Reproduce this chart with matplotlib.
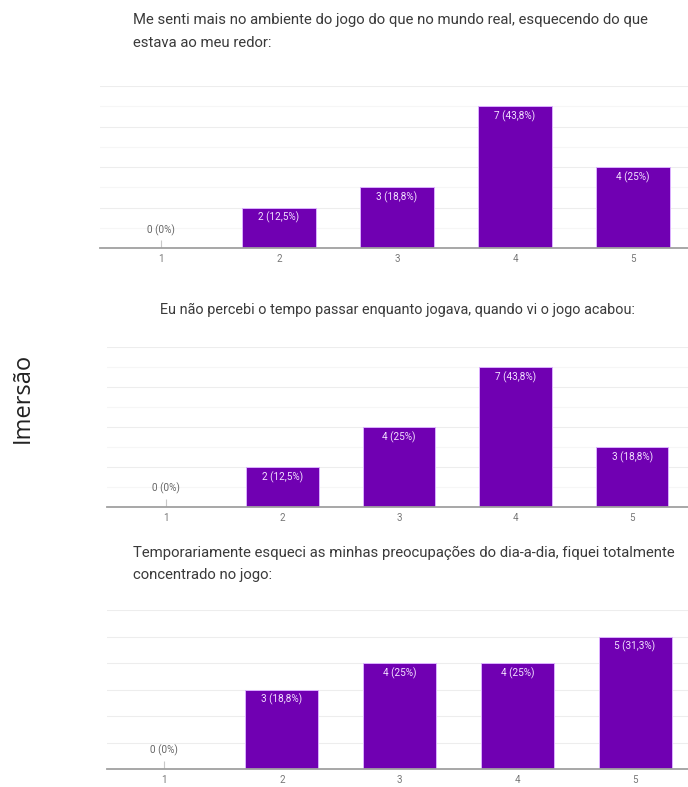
import math

import matplotlib
matplotlib.use("Agg")
import matplotlib.pyplot as plt

# Respostas (escala 1-5), 16 participantes
categories = [1, 2, 3, 4, 5]
counts_q1 = [0, 2, 3, 7, 4]
counts_q2 = [0, 2, 4, 7, 3]
counts_q3 = [0, 3, 4, 4, 5]
total = 16

title_q1 = ("Me senti mais no ambiente do jogo do que no mundo real, esquecendo do que\n"
            "estava ao meu redor:")
title_q2 = "Eu não percebi o tempo passar enquanto jogava, quando vi o jogo acabou:"
title_q3 = ("Temporariamente esqueci as minhas preocupações do dia-a-dia, fiquei totalmente\n"
            "concentrado no jogo:")
side_label = "Imersão"

BAR = "#7000b2"
EDGE = "#dcb0ff"
W, H = 688, 787


def pct_label(n):
    p = math.floor(n / total * 1000 + 0.5) / 10
    txt = f"{p:.0f}" if p == int(p) else f"{p:.1f}".replace(".", ",")
    return f"{n} ({txt}%)"


def px_axes(fig, left, right, base, top):
    return fig.add_axes([left / W, 1 - base / H, (right - left) / W, (base - top) / H])


def draw_panel(ax, counts, ymax, xlim, major_step):
    ax.set_xlim(*xlim)
    ax.set_ylim(0, ymax)
    for y in range(1, ymax + 1):
        col = "#ededed" if y % major_step == 0 else "#f6f6f6"
        ax.axhline(y, color=col, lw=0.8, zorder=0)
    ax.bar(categories, counts, width=0.62, color=BAR, edgecolor=EDGE, lw=0.7, zorder=2)
    ax.vlines(categories[0], 0, ymax * 0.05, color="#c8c8c8", lw=0.8, zorder=1)
    for x, n in zip(categories, counts):
        if n == 0:
            ax.annotate(pct_label(n), (x, 0), xytext=(0, 9), textcoords="offset points",
                        ha="center", va="bottom", fontsize=7.2, color="#666666",
                        family="Roboto")
        else:
            ax.annotate(pct_label(n), (x, n), xytext=(0, -3), textcoords="offset points",
                        ha="center", va="top", fontsize=7.2, color="#f3e2ff",
                        family="Roboto")
    for s in ("top", "right", "left"):
        ax.spines[s].set_visible(False)
    ax.spines["bottom"].set_color("#a0a0a0")
    ax.spines["bottom"].set_linewidth(1.3)
    ax.spines["bottom"].set_zorder(3)
    ax.set_yticks([])
    ax.set_xticks(categories)
    ax.set_xticklabels([str(c) for c in categories])
    ax.tick_params(axis="x", length=0, pad=4, labelsize=7, labelcolor="#777777")
    for lab in ax.get_xticklabels():
        lab.set_family("Roboto")


fig = plt.figure(figsize=(W / 100, H / 100), dpi=100)
fig.patch.set_facecolor("white")

ax1 = px_axes(fig, 100, 688, 248, 86)
draw_panel(ax1, counts_q1, 8, (0.483, 5.466), 2)
fig.text(133 / W, 1 - 13 / H, title_q1, ha="left", va="top", fontsize=10.7,
         color="#3a3a3a", family="Roboto", linespacing=1.8)

ax2 = px_axes(fig, 107, 688, 507, 347)
draw_panel(ax2, counts_q2, 8, (0.494, 5.48), 2)
fig.text(160 / W, 1 - 303 / H, title_q2, ha="left", va="top", fontsize=10.4,
         color="#3a3a3a", family="Roboto")

ax3 = px_axes(fig, 107, 688, 769, 610)
draw_panel(ax3, counts_q3, 6, (0.515, 5.45), 1)
fig.text(133 / W, 1 - 546 / H, title_q3, ha="left", va="top", fontsize=10.7,
         color="#3a3a3a", family="Roboto", linespacing=1.7)

fig.text(23 / W, 1 - 398 / H, side_label, rotation=90, ha="center", va="center",
         fontsize=17, color="#222222", family="Open Sans")

fig.savefig("out.png", dpi=100)
